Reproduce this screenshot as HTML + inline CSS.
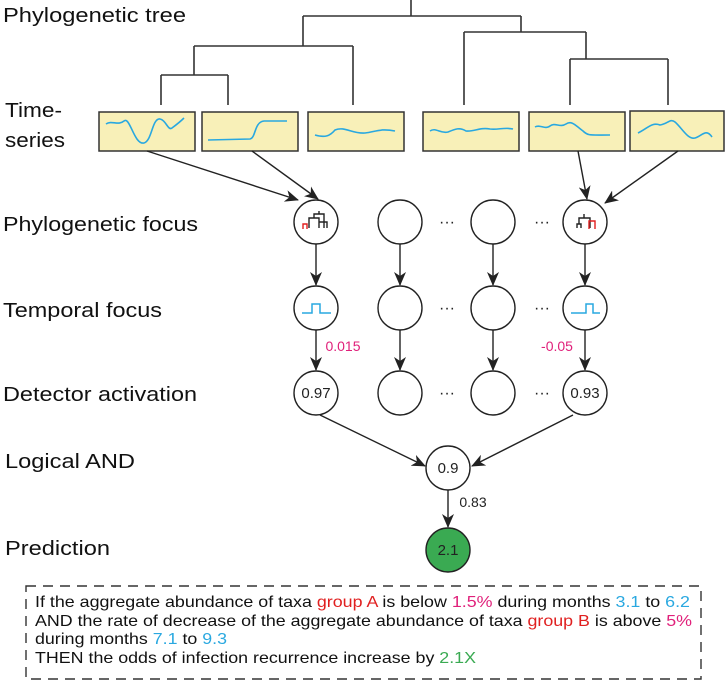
<!DOCTYPE html>
<html><head><meta charset="utf-8"><style>
html,body{margin:0;padding:0;background:#fff;}
svg{display:block;font-family:"Liberation Sans",Arial,sans-serif;}
</style></head><body>
<svg width="727" height="685" viewBox="0 0 727 685" xmlns="http://www.w3.org/2000/svg">
<defs>
<marker id="ah" markerWidth="14" markerHeight="12" refX="13" refY="6" orient="auto" markerUnits="userSpaceOnUse">
<path d="M0,0 L14,6 L0,12 L4,6 Z" fill="#222"/>
</marker>
</defs>
<g font-size="20" fill="#111">
<text x="3" y="22" textLength="183" lengthAdjust="spacingAndGlyphs">Phylogenetic tree</text>
<text x="5" y="117" textLength="57" lengthAdjust="spacingAndGlyphs">Time-</text>
<text x="5" y="147" textLength="60" lengthAdjust="spacingAndGlyphs">series</text>
<text x="3" y="231" textLength="195" lengthAdjust="spacingAndGlyphs">Phylogenetic focus</text>
<text x="3" y="317" textLength="159" lengthAdjust="spacingAndGlyphs">Temporal focus</text>
<text x="3" y="401" textLength="194" lengthAdjust="spacingAndGlyphs">Detector activation</text>
<text x="5" y="468" textLength="130" lengthAdjust="spacingAndGlyphs">Logical AND</text>
<text x="5" y="555" textLength="105" lengthAdjust="spacingAndGlyphs">Prediction</text>
</g>
<g stroke="#333" stroke-width="1.6" fill="none">
<path d="M411,0 V16 M303,16 H521 M303,16 V46 M194,46 H353 M194,46 V75 M161,75 H228 M161,75 V105 M228,75 V105 M353,46 V105"/>
<path d="M521,16 V32 M464,32 H586 M464,32 V105 M586,32 V59 M570,59 H668 M570,59 V105 M668,59 V105"/>
</g>
<g fill="#f8f0b8" stroke="#333" stroke-width="1.5">
<rect x="99" y="112" width="96" height="39"/>
<rect x="202" y="112" width="96" height="39"/>
<rect x="308" y="112" width="96" height="39"/>
<rect x="423" y="112" width="96" height="39"/>
<rect x="529" y="112" width="96" height="39"/>
<rect x="630" y="111" width="94" height="40"/>
</g>
<g fill="none" stroke="#29a8e0" stroke-width="1.6">
<path d="M106,124 C112,120 118,126 124,121 C130,116 134,145 144,143 C152,141 152,118 160,119 C166,120 168,131 172,128 C176,125 180,122 184,118"/>
<path d="M208,140 L250,139 C256,138 254,122 264,121 L287,121"/>
<path d="M315,135 C325,138 330,136 335,130 C345,126 352,134 365,133 C375,132 380,128 395,131"/>
<path d="M430,131 C436,127 440,134 448,132 C455,129 460,127 466,131 C474,132 480,127 490,129 C498,130 505,127 513,129"/>
<path d="M535,127 C540,124 545,130 550,126 C555,122 560,128 566,124 C572,120 576,126 583,131 C588,136 590,135 610,135"/>
<path d="M638,133 C648,128 652,122 660,125 C668,124 670,118 675,122 C682,128 688,140 695,138 C702,136 706,128 712,137"/>
</g>
<g fill="#fff" stroke="#222" stroke-width="1.4">
<circle cx="316" cy="222" r="22"/><circle cx="400" cy="222" r="22"/><circle cx="493" cy="222" r="22"/><circle cx="585" cy="222" r="22"/>
<circle cx="316" cy="308" r="22"/><circle cx="400" cy="308" r="22"/><circle cx="493" cy="308" r="22"/><circle cx="585" cy="308" r="22"/>
<circle cx="316" cy="393" r="22"/><circle cx="400" cy="393" r="22"/><circle cx="493" cy="393" r="22"/><circle cx="585" cy="393" r="22"/>
<circle cx="448" cy="468" r="22"/>
<circle cx="448" cy="550" r="22" fill="#3aaa52"/>
</g>
<g fill="none" stroke="#222" stroke-width="1.4">
<path d="M309,228 V218 H319 V228 M314,218 V214 H324 V228 M319,222 H327 V228 M319,214 V211"/>
<path d="M577,228 V224 H581 V228 M579,224 V218 H590 V228 M584,218 V214"/>
</g>
<path d="M303,229 V224 H307 V229" fill="none" stroke="#e02020" stroke-width="1.4"/>
<path d="M589,229 V221 H595 V229" fill="none" stroke="#e02020" stroke-width="1.4"/>
<path d="M302,313 H312 V304 H320 V313 H331" fill="none" stroke="#29a8e0" stroke-width="1.5"/>
<path d="M571,313 H586 V304 H593 V313 H600" fill="none" stroke="#29a8e0" stroke-width="1.5"/>
<g stroke="#222" stroke-width="1.4" fill="none" marker-end="url(#ah)">
<line x1="147" y1="151" x2="298" y2="200"/>
<line x1="252" y1="151" x2="318" y2="199"/>
<line x1="578" y1="151" x2="587" y2="199"/>
<line x1="678" y1="151" x2="605" y2="203"/>
<line x1="316" y1="244" x2="316" y2="285"/><line x1="400" y1="244" x2="400" y2="285"/><line x1="493" y1="244" x2="493" y2="285"/><line x1="585" y1="244" x2="585" y2="285"/>
<line x1="316" y1="330" x2="316" y2="370"/><line x1="400" y1="330" x2="400" y2="370"/><line x1="493" y1="330" x2="493" y2="370"/><line x1="585" y1="330" x2="585" y2="370"/>
<line x1="320" y1="415" x2="425" y2="466"/>
<line x1="573" y1="415" x2="472" y2="466"/>
<line x1="448" y1="490" x2="448" y2="527"/>
</g>
<g font-size="16" fill="#222" text-anchor="middle">
<text x="447" y="227">···</text><text x="542" y="227">···</text>
<text x="447" y="313">···</text><text x="542" y="313">···</text>
<text x="447" y="398">···</text><text x="542" y="398">···</text>
</g>
<g font-size="15" fill="#222" text-anchor="middle">
<text x="316" y="398">0.97</text>
<text x="585" y="398">0.93</text>
<text x="448" y="473">0.9</text>
<text x="448" y="555">2.1</text>
</g>
<text x="343" y="351" font-size="14" fill="#e0207a" text-anchor="middle">0.015</text>
<text x="557" y="351" font-size="14" fill="#e0207a" text-anchor="middle">-0.05</text>
<text x="473" y="507" font-size="14" fill="#222" text-anchor="middle">0.83</text>
<rect x="26" y="586" width="675" height="93" fill="none" stroke="#333" stroke-width="1.4" stroke-dasharray="10,7"/>
<g font-size="16" fill="#111">
<text x="35" y="607" textLength="655" lengthAdjust="spacingAndGlyphs">If the aggregate abundance of taxa <tspan fill="#e02020">group A</tspan> is below <tspan fill="#e0207a">1.5%</tspan> during months <tspan fill="#29a8e0">3.1</tspan> to <tspan fill="#29a8e0">6.2</tspan></text>
<text x="35" y="626" textLength="657" lengthAdjust="spacingAndGlyphs">AND the rate of decrease of the aggregate abundance of taxa <tspan fill="#e02020">group B</tspan> is above <tspan fill="#e0207a">5%</tspan></text>
<text x="35" y="644" textLength="192" lengthAdjust="spacingAndGlyphs">during months <tspan fill="#29a8e0">7.1</tspan> to <tspan fill="#29a8e0">9.3</tspan></text>
<text x="35" y="663" textLength="441" lengthAdjust="spacingAndGlyphs">THEN the odds of infection recurrence increase by <tspan fill="#3aaa52">2.1X</tspan></text>
</g>
</svg>
</body></html>
